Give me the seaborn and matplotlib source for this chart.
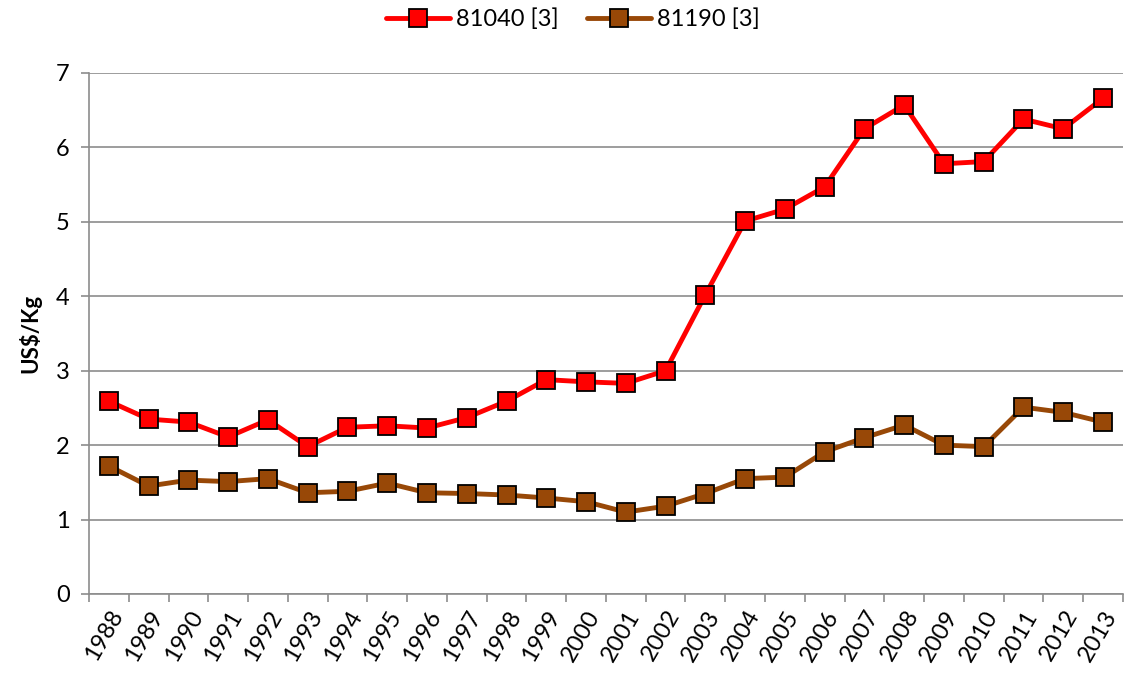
import matplotlib
matplotlib.use("Agg")
import matplotlib.pyplot as plt
import seaborn as sns
import pandas as pd
import numpy as np
from matplotlib.ticker import FixedLocator

years = [str(y) for y in range(1988, 2014)]
s81040 = [2.59, 2.35, 2.31, 2.11, 2.34, 1.98, 2.24, 2.26, 2.23, 2.37, 2.59, 2.88, 2.85, 2.83,
          3.00, 4.02, 5.01, 5.17, 5.47, 6.25, 6.57, 5.78, 5.81, 6.38, 6.25, 6.66]
s81190 = [1.72, 1.45, 1.53, 1.51, 1.55, 1.36, 1.38, 1.49, 1.36, 1.35, 1.33, 1.29, 1.24, 1.10,
          1.18, 1.35, 1.55, 1.57, 1.91, 2.10, 2.27, 2.00, 1.98, 2.51, 2.44, 2.31]
series_names = ["81040 [3]", "81190 [3]"]
ylabel = "US$/Kg"

sns.set_theme(style="white")
plt.rcParams['font.family'] = ['Lato', 'DejaVu Sans']
plt.rcParams['text.color'] = 'black'
plt.rcParams['xtick.labelcolor'] = 'black'
plt.rcParams['ytick.labelcolor'] = 'black'
plt.rcParams['axes.labelcolor'] = 'black'

df = pd.DataFrame({
    "idx": list(range(len(years))) * 2,
    "value": s81040 + s81190,
    "series": [series_names[0]] * len(years) + [series_names[1]] * len(years),
})

fig = plt.figure(figsize=(11.25, 6.77), dpi=100)
ax = fig.add_axes([0.0791, 0.1226, 0.919, 0.7696])

palette = {series_names[0]: "#FF0000", series_names[1]: "#984807"}
sns.lineplot(data=df, x="idx", y="value", hue="series", palette=palette, ax=ax,
             marker="s", markersize=13, markeredgecolor="black", markeredgewidth=1.3,
             linewidth=3.5, legend=True)

ax.set_xlim(-0.5, len(years) - 0.5)
ax.set_ylim(0, 7)
ax.set_yticks(range(0, 8))
ax.yaxis.grid(True, color="#8c8c8c", linewidth=1.2)
ax.set_axisbelow(True)
ax.set_xticks(range(len(years)))
ax.set_xticklabels(years, rotation=60, ha="right", rotation_mode="anchor", fontsize=17)
ax.xaxis.set_minor_locator(FixedLocator(np.arange(-0.5, len(years), 1.0)))
ax.tick_params(axis="x", which="major", length=0, pad=9)
ax.tick_params(axis="x", which="minor", length=6, color="#8c8c8c", width=1.2, direction="out", bottom=True)
ax.tick_params(axis="y", length=6, color="#8c8c8c", width=1.2, direction="out", left=True, labelsize=17, pad=8)
for side in ["top", "right"]:
    ax.spines[side].set_visible(False)
for side in ["left", "bottom"]:
    ax.spines[side].set_color("#8c8c8c")
    ax.spines[side].set_linewidth(1.2)
ax.set_xlabel("")
ax.set_ylabel(ylabel, fontsize=16, fontweight="bold", labelpad=10)

handles, labels = ax.get_legend_handles_labels()
ax.legend(handles, labels, loc="upper center", bbox_to_anchor=(0.468, 1.165), ncol=2, frameon=False,
          fontsize=17, handlelength=2.7, columnspacing=1.2, handletextpad=0.25)

fig.savefig("out.png", dpi=100)
